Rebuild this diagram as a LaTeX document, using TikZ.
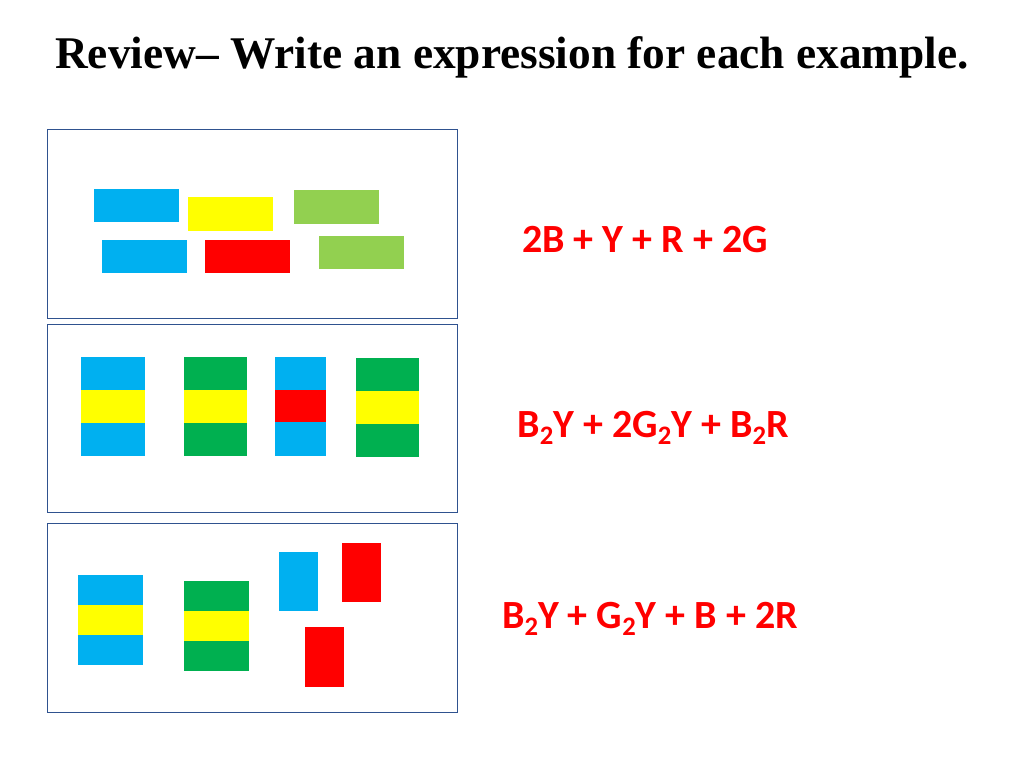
\documentclass[tikz,border=0pt]{standalone}
\usepackage{fontspec}
\setmainfont{Liberation Serif}
\newfontfamily\exprfont{Carlito}
\definecolor{tileblue}{HTML}{00B0F0}
\definecolor{tileyellow}{HTML}{FFFF00}
\definecolor{tilelime}{HTML}{92D050}
\definecolor{tilered}{HTML}{FF0000}
\definecolor{tilegreen}{HTML}{00B050}
\definecolor{framecol}{HTML}{2F528F}
\newcommand{\sublow}[1]{\raisebox{-0.35ex}{\fontsize{20}{24}\selectfont #1}}
\tikzset{
  frame/.style={draw=framecol, line width=0.6pt},
  expr/.style={text=tilered, font=\exprfont\bfseries\fontsize{30}{36}\selectfont},
}
\begin{document}
\begin{tikzpicture}[x=0.75pt, y=-0.75pt]
	%page
	\useasboundingbox (0,0) rectangle (1024,768);

	%title
	\node (title) at (512,57) {\bfseries\fontsize{34}{40}\selectfont Review-- Write an expression for each example.};

	%frames
	\draw[frame] (47,129) rectangle (457,318);
	\draw[frame] (47,324) rectangle (457,512);
	\draw[frame] (47,523) rectangle (457,712);

	%first example
	\fill[tileblue] (94,189) rectangle (179,222);
	\fill[tileyellow] (188,197) rectangle (273,231);
	\fill[tilelime] (294,190) rectangle (379,224);
	\fill[tileblue] (102,240) rectangle (187,273);
	\fill[tilered] (205,240) rectangle (290,273);
	\fill[tilelime] (319,236) rectangle (404,269);

	%second example
	\fill[tileblue] (81,357) rectangle (145,390);
	\fill[tileyellow] (81,390) rectangle (145,423);
	\fill[tileblue] (81,423) rectangle (145,456);
	\fill[tilegreen] (184,357) rectangle (247,390);
	\fill[tileyellow] (184,390) rectangle (247,423);
	\fill[tilegreen] (184,423) rectangle (247,456);
	\fill[tileblue] (275,357) rectangle (326,390);
	\fill[tilered] (275,390) rectangle (326,422);
	\fill[tileblue] (275,422) rectangle (326,456);
	\fill[tilegreen] (356,358) rectangle (419,391);
	\fill[tileyellow] (356,391) rectangle (419,424);
	\fill[tilegreen] (356,424) rectangle (419,457);

	%third example
	\fill[tileblue] (78,575) rectangle (143,605);
	\fill[tileyellow] (78,605) rectangle (143,635);
	\fill[tileblue] (78,635) rectangle (143,665);
	\fill[tilegreen] (184,581) rectangle (249,611);
	\fill[tileyellow] (184,611) rectangle (249,641);
	\fill[tilegreen] (184,641) rectangle (249,671);
	\fill[tileblue] (279,552) rectangle (318,611);
	\fill[tilered] (342,543) rectangle (381,602);
	\fill[tilered] (305,627) rectangle (344,687);

	%expressions
	\node[expr] (exprA) at (645,240) {2B + Y + R + 2G};
	\node[expr] (exprB) at (653,428) {B\sublow{2}Y + 2G\sublow{2}Y + B\sublow{2}R};
	\node[expr] (exprC) at (650,619) {B\sublow{2}Y + G\sublow{2}Y + B + 2R};
\end{tikzpicture}
\end{document}
